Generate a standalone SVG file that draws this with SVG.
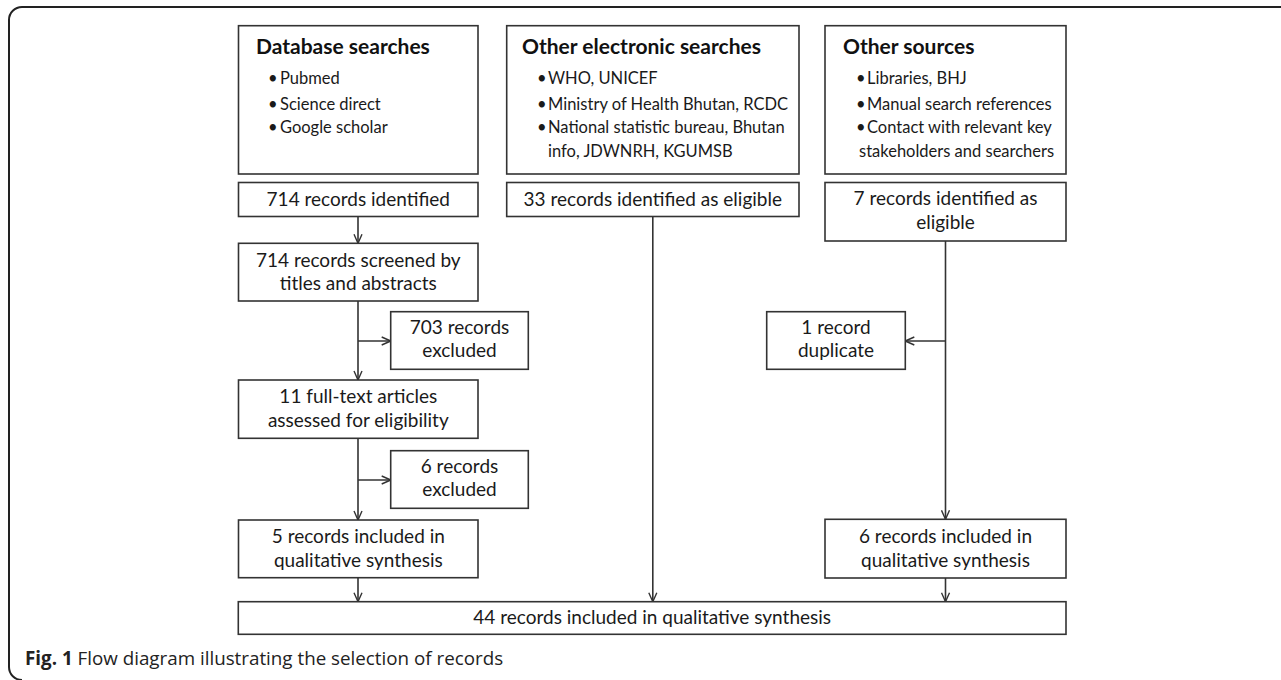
<svg xmlns="http://www.w3.org/2000/svg" width="1281" height="680" viewBox="0 0 1281 680">
<style>
  .box { fill: #ffffff; stroke: #333333; stroke-width: 1.6; }
  .t { font-family: Lato, "Liberation Sans", sans-serif; font-size: 19px; fill: #1a1a1a; text-anchor: middle; }
  .h { font-family: Lato, "Liberation Sans", sans-serif; font-size: 21px; font-weight: bold; fill: #111111; }
  .b { font-family: Lato, "Liberation Sans", sans-serif; font-size: 16.5px; fill: #1a1a1a; }
  .conn { stroke: #333333; stroke-width: 1.6; fill: none; }
  .cap { font-family: "Open Sans", "Noto Sans", sans-serif; font-size: 18.8px; fill: #222222; }
</style>
<defs>
  <marker id="arr" viewBox="0 0 10 10" refX="10" refY="5" markerWidth="10" markerHeight="10" markerUnits="userSpaceOnUse" orient="auto">
    <path d="M1,1 L10,5 L1,9" fill="none" stroke="#333333" stroke-width="1.4"/>
  </marker>
</defs>
<rect width="1281" height="680" fill="#ffffff"/>
<path d="M1281,7 H22 A13,13 0 0 0 9,20 V667 A13,13 0 0 0 22,680" fill="none" stroke="#222222" stroke-width="2"/>

<g id="connectors">
  <line class="conn" x1="358" y1="216.5" x2="358" y2="243.3" marker-end="url(#arr)"/>
  <line class="conn" x1="358" y1="301" x2="358" y2="380" marker-end="url(#arr)"/>
  <line class="conn" x1="358" y1="341" x2="390.7" y2="341" marker-end="url(#arr)"/>
  <line class="conn" x1="358" y1="438.3" x2="358" y2="520" marker-end="url(#arr)"/>
  <line class="conn" x1="358" y1="480" x2="390.7" y2="480" marker-end="url(#arr)"/>
  <line class="conn" x1="358" y1="577.7" x2="358" y2="601.7" marker-end="url(#arr)"/>
  <line class="conn" x1="652.8" y1="216.5" x2="652.8" y2="601.7" marker-end="url(#arr)"/>
  <line class="conn" x1="945.5" y1="241" x2="945.5" y2="519.3" marker-end="url(#arr)"/>
  <line class="conn" x1="945.5" y1="341" x2="905.3" y2="341" marker-end="url(#arr)"/>
  <line class="conn" x1="945.5" y1="578" x2="945.5" y2="601.7" marker-end="url(#arr)"/>
</g>

<g id="db-searches">
  <rect class="box" x="238.5" y="25.7" width="239.5" height="148.3"/>
  <text class="h" x="256" y="54">Database searches</text>
  <text class="b" x="268" y="84">•</text><text class="b" x="280" y="84">Pubmed</text>
  <text class="b" x="268" y="110">•</text><text class="b" x="280" y="110">Science direct</text>
  <text class="b" x="268" y="133">•</text><text class="b" x="280" y="133">Google scholar</text>
</g>
<g id="other-electronic">
  <rect class="box" x="506.7" y="25.7" width="292.3" height="148.3"/>
  <text class="h" x="522" y="54">Other electronic searches</text>
  <text class="b" x="537" y="84">•</text><text class="b" x="548" y="84">WHO, UNICEF</text>
  <text class="b" x="537" y="110">•</text><text class="b" x="548" y="110">Ministry of Health Bhutan, RCDC</text>
  <text class="b" x="537" y="133">•</text><text class="b" x="548" y="133">National statistic bureau, Bhutan</text>
  <text class="b" x="548" y="157">info, JDWNRH, KGUMSB</text>
</g>
<g id="other-sources">
  <rect class="box" x="825" y="25.7" width="241" height="148.3"/>
  <text class="h" x="843" y="54">Other sources</text>
  <text class="b" x="856" y="84">•</text><text class="b" x="867" y="84">Libraries, BHJ</text>
  <text class="b" x="856" y="110">•</text><text class="b" x="867" y="110">Manual search references</text>
  <text class="b" x="856" y="133">•</text><text class="b" x="867" y="133">Contact with relevant key</text>
  <text class="b" x="859" y="157">stakeholders and searchers</text>
</g>

<g id="n714-identified">
  <rect class="box" x="238.5" y="182.5" width="239.5" height="34"/>
  <text class="t" x="358.3" y="206">714 records identified</text>
</g>
<g id="n33-identified">
  <rect class="box" x="506.7" y="182.5" width="292.3" height="34"/>
  <text class="t" x="652.8" y="206">33 records identified as eligible</text>
</g>
<g id="n7-identified">
  <rect class="box" x="825" y="182.5" width="241" height="58.5"/>
  <text class="t" x="945.5" y="205">7 records identified as</text>
  <text class="t" x="945.5" y="229">eligible</text>
</g>
<g id="n714-screened">
  <rect class="box" x="238.5" y="243.3" width="239.5" height="57.7"/>
  <text class="t" x="358.3" y="266.5">714 records screened by</text>
  <text class="t" x="358.3" y="290">titles and abstracts</text>
</g>
<g id="n703-excluded">
  <rect class="box" x="390.7" y="311.7" width="137.6" height="57.6"/>
  <text class="t" x="459.5" y="334">703 records</text>
  <text class="t" x="459.5" y="357">excluded</text>
</g>
<g id="n1-duplicate">
  <rect class="box" x="766.7" y="311.7" width="138.6" height="57.6"/>
  <text class="t" x="836" y="334">1 record</text>
  <text class="t" x="836" y="357">duplicate</text>
</g>
<g id="n11-fulltext">
  <rect class="box" x="238.5" y="380" width="239.5" height="58.3"/>
  <text class="t" x="358.3" y="403">11 full-text articles</text>
  <text class="t" x="358.3" y="426.5">assessed for eligibility</text>
</g>
<g id="n6-excluded">
  <rect class="box" x="390.7" y="450.7" width="137.6" height="57.6"/>
  <text class="t" x="459.5" y="473">6 records</text>
  <text class="t" x="459.5" y="496">excluded</text>
</g>
<g id="n5-included">
  <rect class="box" x="238.5" y="520" width="239.5" height="57.7"/>
  <text class="t" x="358.3" y="543">5 records included in</text>
  <text class="t" x="358.3" y="566.5">qualitative synthesis</text>
</g>
<g id="n6-included">
  <rect class="box" x="825" y="519.3" width="241" height="58.7"/>
  <text class="t" x="945.5" y="543">6 records included in</text>
  <text class="t" x="945.5" y="566.5">qualitative synthesis</text>
</g>
<g id="n44-included">
  <rect class="box" x="238.3" y="601.7" width="827.7" height="32.6"/>
  <text class="t" x="652.2" y="623.5">44 records included in qualitative synthesis</text>
</g>

<text class="cap" x="25" y="665"><tspan font-weight="bold">Fig. 1</tspan> Flow diagram illustrating the selection of records</text>
</svg>
